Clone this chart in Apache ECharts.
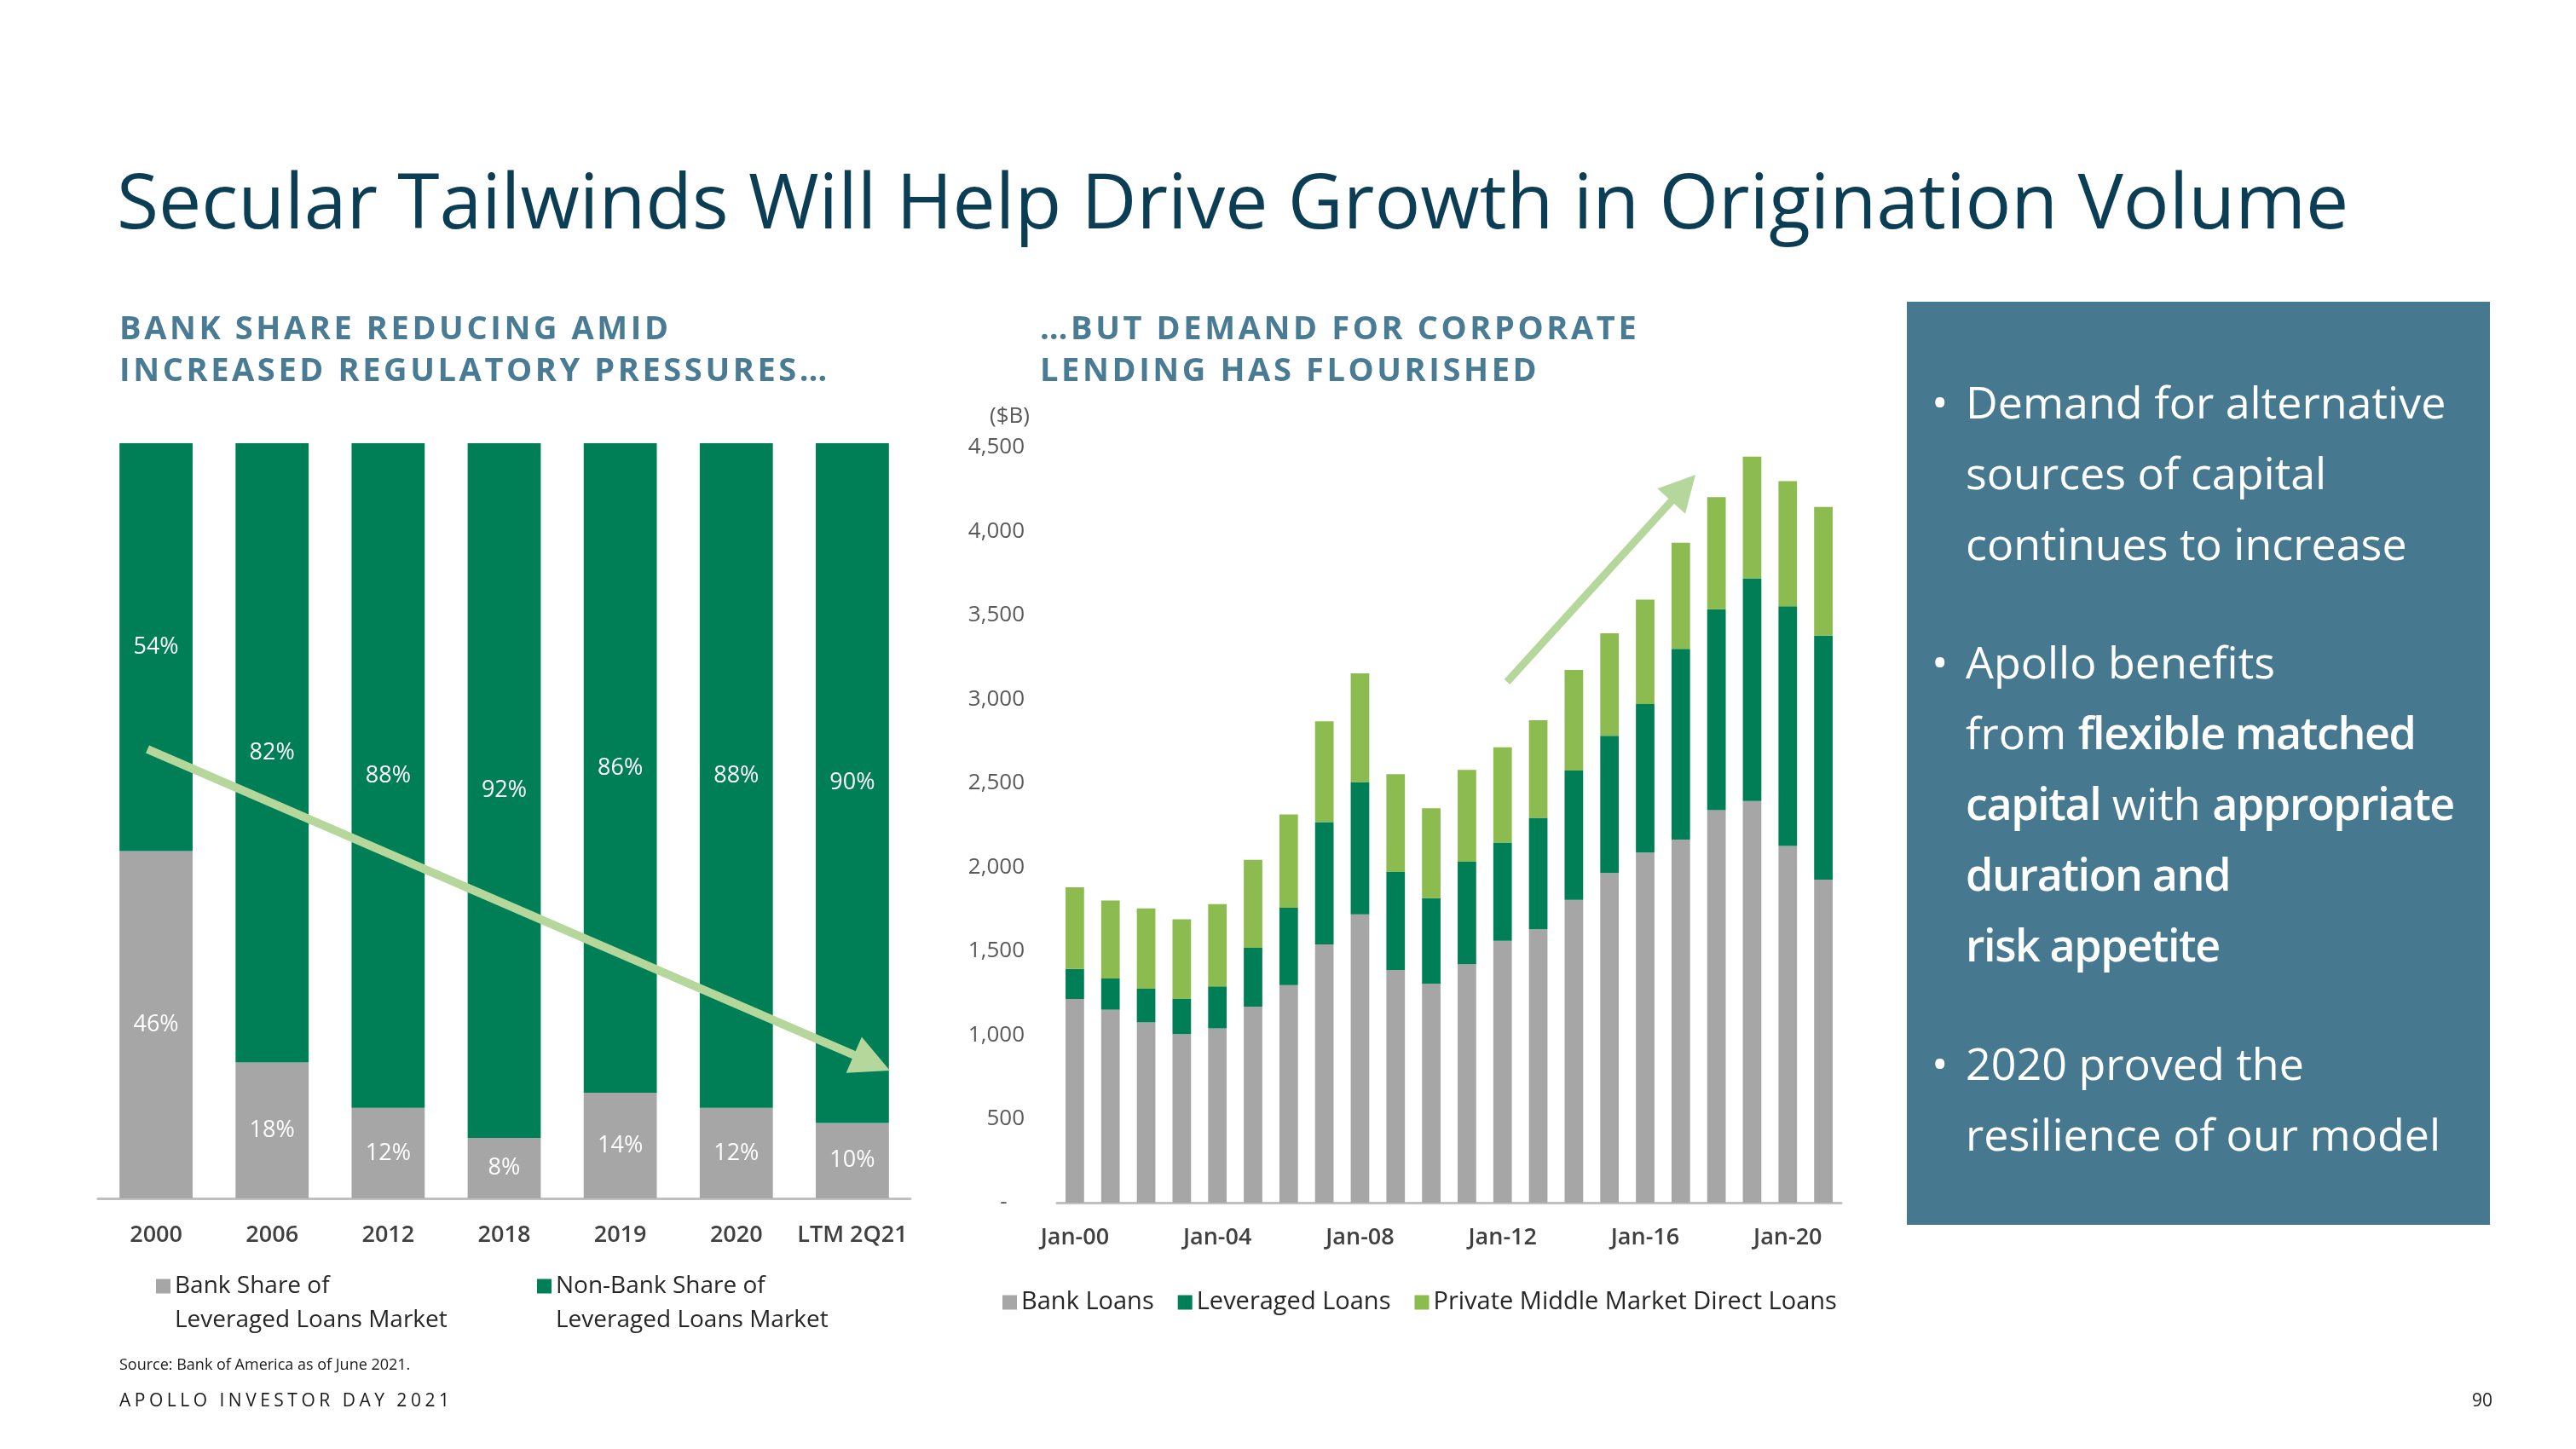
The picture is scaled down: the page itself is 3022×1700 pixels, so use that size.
<!DOCTYPE html>
<html>
<head>
<meta charset="utf-8">
<script src="https://cdn.jsdelivr.net/npm/echarts@6/dist/echarts.min.js"></script>
<style>
  html, body { margin:0; padding:0; background:#ffffff; }
  #wrap { position:relative; width:3022px; height:1700px; overflow:hidden; background:#fff; }
  #chart { position:absolute; left:0; top:0; width:3022px; height:1700px; }
  .t { position:absolute; line-height:1; white-space:nowrap; font-family:'Open Sans', 'Noto Sans', sans-serif; z-index:2; }
  .title { font-size:89.5px; color:#0b3e54; }
  .sub { font-size:38px; font-weight:700; color:#4a7b94; letter-spacing:3.6px; }
  #panel { position:absolute; left:2237px; top:354px; width:684px; height:1083px; background:#46788f; z-index:1; }
  .pt { font-size:52px; color:#ffffff; }
  .pt b { font-weight:650; letter-spacing:-1.4px; }
  .foot { color:#1a1a1a; }
</style>
</head>
<body>
<div id="wrap">
  <div id="chart"></div>
  <div id="panel"></div>
  <div id="texts"></div>
</div>
<script>
// ---------------- DATA ----------------
const leftCategories = ['2000', '2006', '2012', '2018', '2019', '2020', 'LTM 2Q21'];
const bankShare      = [46, 18, 12, 8, 14, 12, 10];
const nonBankShare   = [54, 82, 88, 92, 86, 88, 90];

const rightCategories = ['Jan-00','Jan-01','Jan-02','Jan-03','Jan-04','Jan-05','Jan-06','Jan-07',
                         'Jan-08','Jan-09','Jan-10','Jan-11','Jan-12','Jan-13','Jan-14','Jan-15',
                         'Jan-16','Jan-17','Jan-18','Jan-19','Jan-20','Jan-21'];
const bankLoans       = [1214,1150,1075,1004,1039,1168,1296,1539,1718,1386,1304,1421,1561,1629,1804,1964,2086,2164,2339,2393,2125,1925];
const leveragedLoans  = [179, 186, 200, 210, 250, 350, 461, 729, 789, 585, 510, 611, 585, 664, 771, 818, 885,1136,1197,1328,1429,1454];
const privateMMLoans  = [486, 464, 479, 475, 490, 525, 557, 600, 647, 583, 536, 547, 568, 582, 600, 611, 622, 632, 668, 725, 746, 767];
const rightYMax = 4500;
const rightYStep = 500;

const leftSeriesNames  = ['Bank Share of Leveraged Loans Market', 'Non-Bank Share of Leveraged Loans Market'];
const rightSeriesNames = ['Bank Loans', 'Leveraged Loans', 'Private Middle Market Direct Loans'];

// ---------------- TEXT (slide) ----------------
const FONT = "'Open Sans', 'Noto Sans', sans-serif";
function addText(html, cls, left, baseline, fs, extraStyle) {
  const d = document.createElement('div');
  d.className = 't ' + cls;
  d.innerHTML = html;
  d.style.left = left + 'px';
  d.style.top = (baseline - 0.888 * fs) + 'px';
  if (extraStyle) d.setAttribute('style', d.getAttribute('style') + ';' + extraStyle);
  document.getElementById('texts').appendChild(d);
  return d;
}
addText('Secular Tailwinds Will Help Drive Growth in Origination Volume', 'title', 137, 268, 89.5);
addText('BANK SHARE REDUCING AMID', 'sub', 140, 398, 38);
addText('INCREASED REGULATORY PRESSURES…', 'sub', 140, 447, 38);
addText('…BUT DEMAND FOR CORPORATE', 'sub', 1220, 398, 38);
addText('LENDING HAS FLOURISHED', 'sub', 1220, 447, 38);

const panelLines = [
  ['Demand for alternative', 491, true],
  ['sources of capital', 574],
  ['continues to increase', 657],
  ['Apollo benefits', 796, true],
  ['from <b>flexible matched</b>', 879],
  ['<b>capital</b> with <b>appropriate</b>', 962],
  ['<b>duration and</b>', 1045],
  ['<b>risk appetite</b>', 1128],
  ['2020 proved the', 1267, true],
  ['resilience of our model', 1350]
];
panelLines.forEach(l => {
  addText(l[0], 'pt', 2306, l[1], 52);
  if (l[2]) addText('•', 'pt', 2266, l[1], 52);
});
addText('Source: Bank of America as of June 2021.', 'foot', 140, 1607, 18, 'font-size:18px');
addText('APOLLO INVESTOR DAY 2021', 'foot', 140, 1651, 21, 'font-size:21px;letter-spacing:4.5px');
addText('90', 'foot', 2900, 1651, 21, 'font-size:21px');

// ---------------- CHART ----------------
const GRAY = '#a6a6a6', DKGREEN = '#007e56', LTGREEN = '#8cbb50', ARROW = '#b6d79c';
const chart = echarts.init(document.getElementById('chart'), null, { renderer: 'canvas', width: 3022, height: 1700 });

function arrow(x1, y1, x2, y2, shaftW, headLen, headW) {
  const dx = x2 - x1, dy = y2 - y1, L = Math.hypot(dx, dy);
  const ux = dx / L, uy = dy / L, px = -uy, py = ux;
  const bx = x2 - ux * headLen, by = y2 - uy * headLen;
  return [
    { type: 'line', shape: { x1: x1, y1: y1, x2: bx + ux * 2, y2: by + uy * 2 },
      style: { stroke: ARROW, lineWidth: shaftW }, z: 10 },
    { type: 'polygon', shape: { points: [[x2, y2], [bx + px * headW / 2, by + py * headW / 2], [bx - px * headW / 2, by - py * headW / 2]] },
      style: { fill: ARROW }, z: 10 }
  ];
}

const labelStyle = { show: true, position: 'inside', color: '#ffffff', fontSize: 27, fontFamily: FONT, formatter: '{c}%' };
// square icon sitting on the first line of a two-line legend label
const topSquareIcon = 'path://M0,0L17,0L17,17L0,17Z M0,56.95L0.05,56.95L0.05,57L0,57Z';
const leftLegendBase = {
  orient: 'horizontal', padding: 0, top: 1489,
  icon: topSquareIcon, itemWidth: 17, itemHeight: 57, selectedMode: false,
  formatter: n => n.replace(' of ', ' of\n'),
  textStyle: { fontSize: 28, color: '#262626', lineHeight: 40, fontFamily: FONT }
};

const option = {
  animation: false,
  backgroundColor: 'transparent',
  textStyle: { fontFamily: FONT },
  grid: [
    { left: 115, top: 520, width: 953, height: 886 },
    { left: 1240, top: 525, width: 920, height: 886 }
  ],
  xAxis: [
    { type: 'category', gridIndex: 0, data: leftCategories,
      axisLine: { lineStyle: { color: '#c0c0c0', width: 3 } }, axisTick: { show: false },
      axisLabel: { interval: 0, fontSize: 27, color: '#404040', fontWeight: 600, fontFamily: FONT, margin: 30 } },
    { type: 'category', gridIndex: 1, data: rightCategories,
      axisLine: { lineStyle: { color: '#c0c0c0', width: 3 } }, axisTick: { show: false },
      axisLabel: { interval: 3, fontSize: 27, color: '#404040', fontWeight: 600, fontFamily: FONT, margin: 28 } }
  ],
  yAxis: [
    { type: 'value', gridIndex: 0, min: 0, max: 100, show: false },
    { type: 'value', gridIndex: 1, min: 0, max: rightYMax, interval: rightYStep,
      name: '($B)', nameLocation: 'end', nameGap: 36,
      nameTextStyle: { fontSize: 26, color: '#595959', align: 'right', verticalAlign: 'middle', padding: [0, 32, 0, 0], fontFamily: FONT },
      axisLine: { show: false }, axisTick: { show: false }, splitLine: { show: false },
      axisLabel: { fontSize: 26, color: '#595959', margin: 38, fontFamily: FONT,
        formatter: v => v === 0 ? '-   ' : v.toLocaleString('en-US') } }
  ],
  legend: [
    Object.assign({ data: [leftSeriesNames[0]], left: 183 }, leftLegendBase),
    Object.assign({ data: [leftSeriesNames[1]], left: 630 }, leftLegendBase),
    { data: rightSeriesNames, left: 1176, top: 1511, orient: 'horizontal', padding: 0,
      icon: 'rect', itemWidth: 17, itemHeight: 17, itemGap: 28, selectedMode: false,
      textStyle: { fontSize: 29, color: '#262626', lineHeight: 34, fontFamily: FONT } }
  ],
  series: [
    { name: leftSeriesNames[0], type: 'bar', stack: 'share', xAxisIndex: 0, yAxisIndex: 0,
      data: bankShare, barWidth: '63%', itemStyle: { color: GRAY }, label: labelStyle },
    { name: leftSeriesNames[1], type: 'bar', stack: 'share', xAxisIndex: 0, yAxisIndex: 0,
      data: nonBankShare, barWidth: '63%', itemStyle: { color: DKGREEN }, label: labelStyle },
    { name: rightSeriesNames[0], type: 'bar', stack: 'loans', xAxisIndex: 1, yAxisIndex: 1,
      data: bankLoans, barWidth: '52%', itemStyle: { color: GRAY } },
    { name: rightSeriesNames[1], type: 'bar', stack: 'loans', xAxisIndex: 1, yAxisIndex: 1,
      data: leveragedLoans, barWidth: '52%', itemStyle: { color: DKGREEN } },
    { name: rightSeriesNames[2], type: 'bar', stack: 'loans', xAxisIndex: 1, yAxisIndex: 1,
      data: privateMMLoans, barWidth: '52%', itemStyle: { color: LTGREEN } }
  ],
  graphic: [
    ...arrow(173, 879, 1044, 1256, 10, 46, 46),
    ...arrow(1768, 800, 1989, 557, 9, 42, 44)
  ]
};
chart.setOption(option);
</script>
</body>
</html>
